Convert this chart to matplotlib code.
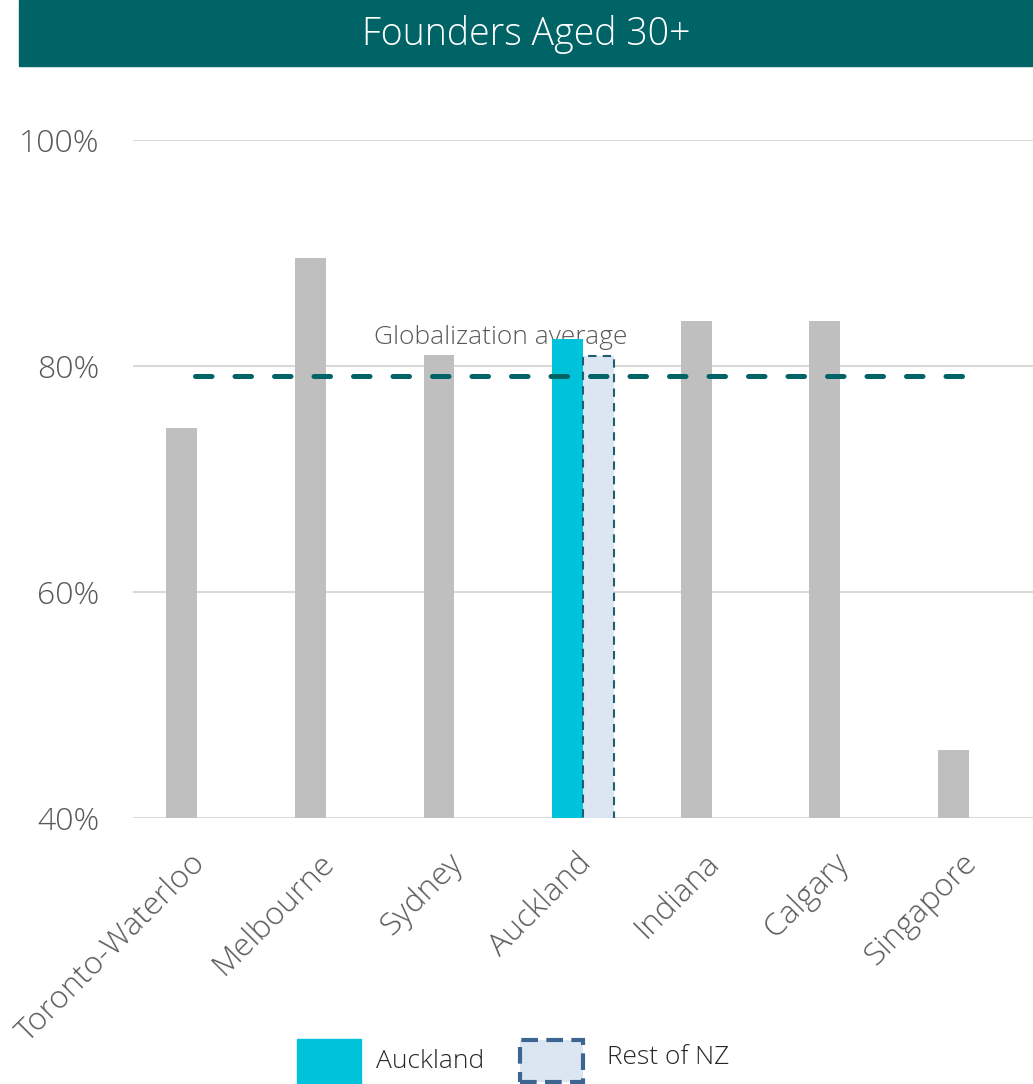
import matplotlib
matplotlib.use("Agg")
import matplotlib.pyplot as plt
from matplotlib.patches import Rectangle
from matplotlib.transforms import ScaledTranslation
import numpy as np

plt.rcParams['font.family'] = ['Open Sans', 'DejaVu Sans']

cities = ['Toronto-Waterloo', 'Melbourne', 'Sydney', 'Auckland', 'Indiana', 'Calgary', 'Singapore']
share_30_plus = [74.5, 89.6, 81.0, 82.4, 84.0, 84.0, 46.0]
rest_of_nz = 80.9
global_avg = 79.1
yticks = [40, 60, 80, 100]

teal = '#006366'
grey = '#bfbfbf'
cyan = '#00c3db'
pale = '#dce6f2'
txt = '#595959'

W, H = 1033, 1084
fig = plt.figure(figsize=(W / 100, H / 100), dpi=100)

# title banner
fig.patches.append(Rectangle((19 / W, 1 - 66 / H), 1 - 19 / W, 66 / H,
                             transform=fig.transFigure, color=teal, zorder=0))
fig.text(526 / W, 1 - 34 / H, 'Founders Aged 30+', color='white', fontsize=27,
         fontweight='light', ha='center', va='center')

ax = fig.add_axes([133 / W, 1 - 818 / H, 1 - 133 / W, (818 - 140) / H])
x = np.arange(len(cities))
colors = [cyan if c == 'Auckland' else grey for c in cities]
ax.bar(x, share_30_plus, width=0.24, color=colors, zorder=2)
ak = cities.index('Auckland')
ax.bar(ak + 0.24, rest_of_nz, width=0.24, color=pale, edgecolor='#1f5e6e',
       linestyle=(0, (4, 3)), linewidth=1.5, zorder=2, align='center')

ax.plot([0.1, 6.14], [global_avg, global_avg], color=teal, lw=3.6,
        linestyle=(0, (3.3, 4.6)), dash_capstyle='round', zorder=3)
ax.text(2.48, global_avg + 3.4, 'Globalization average', color=txt, fontsize=19,
        fontweight='light', ha='center', va='center', zorder=1)

ax.set_ylim(40, 100)
ax.set_xlim(-0.38, 6.62)
ax.set_yticks(yticks)
ax.set_yticklabels([f'{v}%' for v in yticks])
ax.set_xticks(x)
ax.set_xticklabels(cities, rotation=45, ha='right', va='top', rotation_mode='anchor')
ax.tick_params(axis='both', length=0, labelcolor=txt)
ax.tick_params(axis='y', pad=24, labelsize=23)
ax.tick_params(axis='x', pad=8, labelsize=23)
shift = ScaledTranslation(8 / 100, -18 / 100, fig.dpi_scale_trans)
for lab in ax.get_xticklabels():
    lab.set_fontweight('light')
    lab.set_transform(lab.get_transform() + shift)
for lab in ax.get_yticklabels():
    lab.set_fontweight('light')
ax.grid(axis='y', color='#d9d9d9', lw=1.5, zorder=0)
for s in ax.spines.values():
    s.set_visible(False)

# legend
fig.patches.append(Rectangle((297 / W, 1 - 1084 / H), 64 / W, 45 / H,
                             transform=fig.transFigure, color=cyan))
fig.text(376 / W, 1 - 1061 / H, 'Auckland', color='#262626', fontsize=19,
         fontweight='light', va='center')
fig.patches.append(Rectangle((520 / W, 1 - 1082 / H), 63 / W, 42 / H,
                             transform=fig.transFigure, facecolor=pale,
                             edgecolor='#3d6592', linestyle=(0, (4, 2)), lw=3))
fig.text(607 / W, 1 - 1057 / H, 'Rest of NZ', color='#262626', fontsize=19,
         fontweight='light', va='center')

fig.savefig('out.png', dpi=100)
